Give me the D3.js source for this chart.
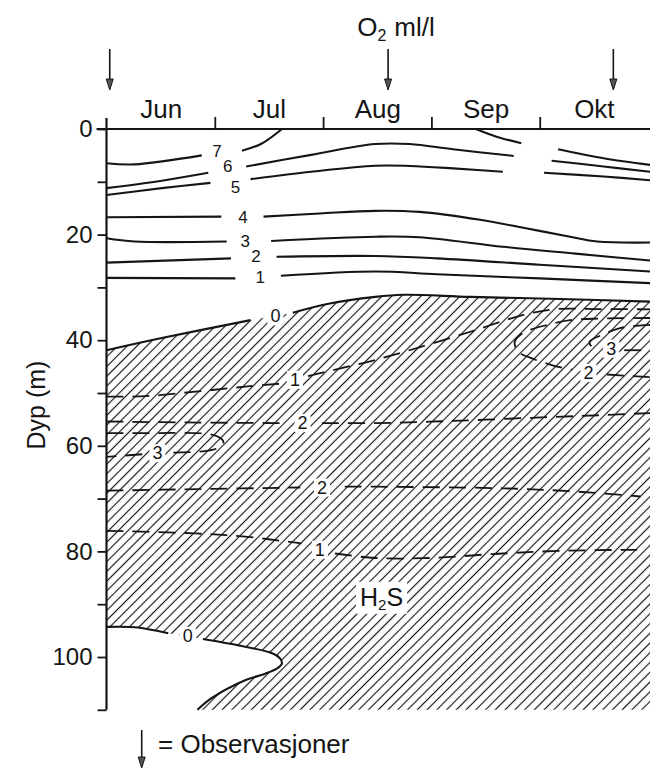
<!DOCTYPE html>
<html><head><meta charset="utf-8">
<script src="https://cdnjs.cloudflare.com/ajax/libs/d3/7.8.5/d3.min.js"></script>
<style>
body{margin:0;background:#fff}
text{font-family:"Liberation Sans",Arial,Helvetica,sans-serif;fill:#151515}
</style></head>
<body><svg id="c" width="650" height="770"></svg>
<script>
// ---------- DATA (x = months since 1 June, y = depth in m) ----------
const months = ["Jun","Jul","Aug","Sep","Okt"];
const monthBounds = [1,2,3,4];
const depthTicks = [0,10,20,30,40,50,60,70,80,90,100,110];
const observations = [0.03, 2.6, 4.68];

// O2 isolines (ml/l), solid; each is a list of segments
const o2_7 = [
  [[0.00,6.5],[0.26,6.7],[0.88,5.0]],
  [[1.25,4.1],[1.43,2.8],[1.62,0]],
  [[3.41,0],[3.60,1.45],[3.83,2.7]],
  [[4.17,3.85],[4.59,5.55],[5.02,6.8]]
];
const o2_6 = [
  [[0.00,11.2],[0.51,9.8],[0.94,8.3]],
  [[1.29,7.1],[1.89,4.9],[2.48,2.85],[2.80,2.85],[3.20,3.85],[3.76,5.1]],
  [[4.11,6.0],[4.59,7.1],[5.02,8.1]]
];
const o2_5 = [
  [[0.00,12.5],[0.51,11.2],[0.96,10.2]],
  [[1.33,9.5],[1.89,8.1],[2.48,6.95],[2.80,7.0],[3.20,7.45],[3.66,8.1]],
  [[4.04,8.3],[4.59,9.0],[5.02,9.7]]
];
const o2_4 = [
  [[0.00,16.7],[1.06,16.6]],
  [[1.45,16.6],[1.97,16.0],[2.48,15.5],[2.89,15.7],[3.45,17.2],[3.86,18.75],[4.28,20.4],[4.53,21.3],[5.02,21.5]]
];
const o2_3 = [
  [[0.00,20.7],[0.26,21.3],[1.11,21.3]],
  [[1.52,21.2],[2.48,20.4],[2.89,20.5],[3.66,22.3],[4.33,23.6],[5.02,24.9]]
];
const o2_2 = [
  [[0.00,25.3],[1.15,24.5]],
  [[1.57,24.2],[2.48,24.05],[3.05,24.5],[4.00,25.7],[5.02,27.0]]
];
const o2_1 = [
  [[0.00,28.2],[1.19,28.3]],
  [[1.61,27.8],[2.48,27.0],[3.05,27.5],[4.00,28.3],[5.02,29.2]]
];
const o2_0top = [
  [[0.00,41.9],[0.51,39.6],[1.33,36.2]],
  [[1.72,34.8],[2.05,33.1],[2.48,31.8],[2.74,31.4],[3.36,31.8],[4.19,32.2],[5.02,32.7]]
];
const o2_0bottom = [
  [[0.00,94.3],[0.29,94.4],[0.57,95.5]],
  [[0.89,96.6],[1.28,98.05],[1.53,99.3],[1.60,100.2],[1.62,101.2],[1.58,102.1],[1.46,103.2],[1.28,104.4],[0.97,107.8],[0.84,110]]
];
// label value, month, depth
const o2Labels = [[7,1.02,4.2],[6,1.12,7.1],[5,1.19,11.0],[4,1.26,16.7],[3,1.28,21.3],[2,1.38,24.2],[1,1.42,28.2]];
const zeroLabels = [[0,1.56,35.5],[0,0.75,96.0]];

// H2S isolines (ml/l), dashed
const h2s_1top = [
  [[0.00,50.7],[0.36,50.6],[0.82,49.75],[1.28,48.8],[1.62,48.2]],
  [[1.86,46.8],[2.17,45.3],[2.48,43.75],[2.88,41.4],[3.36,38.4],[3.85,35.2],[4.16,34.1],[4.56,34.1],[5.02,34.15]]
];
const h2s_2top = [
  [[0.00,55.4],[0.86,55.6],[1.65,55.7]],
  [[1.99,55.7],[2.48,55.7],[3.18,55.3],[3.92,54.7],[4.56,54.2],[5.02,53.8]]
];
const h2s_3left = [
  [[0.00,57.6],[0.40,57.6],[0.91,57.7],[1.03,58.3],[1.08,59.3],[1.03,60.4],[0.91,61.0],[0.60,61.3]],
  [[0.33,61.6],[0.00,62.1]]
];
const h2s_2bottom = [
  [[0.00,68.5],[0.86,68.2],[1.79,67.9]],
  [[2.20,67.75],[2.50,67.75],[3.66,68.05],[4.28,68.6],[4.93,69.6]]
];
const h2s_1bottom = [
  [[0.00,76.1],[0.82,76.6],[1.28,77.2],[1.80,78.5]],
  [[2.11,80.4],[2.48,81.25],[2.99,81.25],[3.57,80.5],[4.19,79.9],[4.90,79.7]]
];
const h2s_2right = [
  [[5.02,35.8],[4.56,35.9],[4.28,36.2],[4.07,37.1],[3.85,38.6],[3.77,40.3],[3.80,42.2],[3.91,43.3],[4.11,44.7],[4.30,45.6]],
  [[4.62,46.5],[5.02,47.0]]
];
const h2s_3right = [
  [[5.02,37.1],[4.74,37.7],[4.60,38.8],[4.46,40.3],[4.49,41.4],[4.55,41.8]],
  [[4.78,41.9],[5.02,41.9]]
];
const h2sLabels = [[1,1.74,47.5],[2,1.81,55.7],[3,0.47,61.4],[2,1.99,67.9],[1,1.97,79.7],[2,4.45,46.2],[3,4.66,41.6]];
const h2sName = [2.54, 90.3];

// ---------- DRAWING ----------
const INK = "#151515";
const svg = d3.select("#c");
const x = d3.scaleLinear().domain([0,5]).range([106.5,648]);
const y = d3.scaleLinear().domain([0,110]).range([129,709.8]);
const line = d3.line().x(d=>x(d[0])).y(d=>y(d[1])).curve(d3.curveCatmullRom.alpha(0.5));

const defs = svg.append("defs");
const pat = defs.append("pattern").attr("id","hatch").attr("patternUnits","userSpaceOnUse")
  .attr("width",6.9).attr("height",10).attr("patternTransform","rotate(45)");
pat.append("line").attr("x1",3.45).attr("y1",-1).attr("x2",3.45).attr("y2",11)
  .attr("stroke",INK).attr("stroke-width",1.15);

// hatched H2S region
const upperAll = o2_0top.flat();
const lowerAll = o2_0bottom.flat().slice().reverse();
const pUpper = line(upperAll);
const pLower = line(lowerAll).replace(/^M/,"L");
const regionPath = pUpper + `L${x(5.02)},${y(110)}L${x(lowerAll[0][0])},${y(110)}` + pLower + "Z";
svg.append("path").attr("d",regionPath).attr("fill","url(#hatch)").attr("stroke","none");

// solid O2 isolines
[o2_7,o2_6,o2_5,o2_4,o2_3,o2_2,o2_1,o2_0top,o2_0bottom].forEach(iso=>{
  svg.append("g").selectAll("path").data(iso).join("path")
    .attr("d",line).attr("fill","none").attr("stroke",INK).attr("stroke-width",2.1);
});
// dashed H2S isolines
[h2s_1top,h2s_2top,h2s_3left,h2s_2bottom,h2s_1bottom,h2s_2right,h2s_3right].forEach(iso=>{
  svg.append("g").selectAll("path").data(iso).join("path")
    .attr("d",line).attr("fill","none").attr("stroke",INK).attr("stroke-width",1.8)
    .attr("stroke-dasharray","17,9");
});

function label(txt, m, d, size, box){
  const g = svg.append("g");
  const t = g.append("text").attr("x",x(m)).attr("y",y(d)).attr("text-anchor","middle")
    .attr("dominant-baseline","central").attr("font-size",size).text(txt);
  if(box){
    const b = t.node().getBBox();
    g.insert("rect","text").attr("x",b.x-3).attr("y",b.y+1).attr("width",b.width+6)
      .attr("height",b.height-2).attr("fill","#fff");
  }
}
o2Labels.forEach(l=>label(l[0],l[1],l[2],17,false));
zeroLabels.forEach(l=>label(l[0],l[1],l[2],18,true));
h2sLabels.forEach(l=>label(l[0],l[1],l[2],18,true));

// H2S name
{
  const g = svg.append("g");
  const t = g.append("text").attr("x",x(h2sName[0])).attr("y",y(h2sName[1]))
    .attr("text-anchor","middle").attr("font-size",25);
  t.append("tspan").text("H");
  t.append("tspan").attr("font-size",15).attr("dy",4).text("2");
  t.append("tspan").attr("dy",-4).text("S");
  const b = t.node().getBBox();
  g.insert("rect","text").attr("x",b.x-4).attr("y",b.y-1).attr("width",b.width+8)
    .attr("height",b.height+2).attr("fill","#fff");
}

// axes
const yAxis = d3.axisLeft(y).tickValues(depthTicks).tickSize(9).tickPadding(5)
  .tickFormat(d=> d%20===0 ? d : "");
const gy = svg.append("g").attr("transform",`translate(${x(0)},0)`).call(yAxis);
gy.select(".domain").remove();
gy.selectAll(".tick line").attr("stroke",INK).attr("stroke-width",1.8);
gy.selectAll(".tick text").attr("font-size",24).attr("fill",INK).attr("font-family",null);
svg.append("line").attr("x1",x(0)).attr("x2",x(0)).attr("y1",y(0)-11).attr("y2",y(110))
  .attr("stroke",INK).attr("stroke-width",2.2);
svg.append("line").attr("x1",x(0)-10).attr("x2",650).attr("y1",y(0)).attr("y2",y(0))
  .attr("stroke",INK).attr("stroke-width",2.2);

const xTicks = d3.axisTop(x).tickValues(monthBounds).tickSize(12).tickFormat("");
const gx = svg.append("g").attr("transform",`translate(0,${y(0)})`).call(xTicks);
gx.select(".domain").remove();
gx.selectAll(".tick line").attr("stroke",INK).attr("stroke-width",1.8);
const xLabels = d3.axisTop(x).tickValues(months.map((m,i)=>i+0.5)).tickSize(0).tickPadding(11)
  .tickFormat((d,i)=>months[i]);
const gxl = svg.append("g").attr("transform",`translate(0,${y(0)})`).call(xLabels);
gxl.select(".domain").remove();
gxl.selectAll(".tick text").attr("font-size",26).attr("fill",INK).attr("font-family",null);

// observation arrows
function arrow(px, y1, y2){
  svg.append("line").attr("x1",px).attr("x2",px).attr("y1",y1).attr("y2",y2-8)
    .attr("stroke",INK).attr("stroke-width",1.6);
  svg.append("path").attr("d",`M${px-3.5},${y2-11}L${px+3.5},${y2-11}L${px},${y2}Z`)
    .attr("fill","#555").attr("stroke",INK).attr("stroke-width",1);
}
observations.forEach(o=>arrow(x(o),49,90));

// title
{
  const t = svg.append("text").attr("x",396).attr("y",36).attr("text-anchor","middle").attr("font-size",26);
  t.append("tspan").text("O");
  t.append("tspan").attr("font-size",16).attr("dy",5).text("2");
  t.append("tspan").attr("dy",-5).attr("dx",8).text("ml/l");
}
// y title
svg.append("text").attr("transform","translate(36,405) rotate(-90)").attr("text-anchor","middle")
  .attr("dominant-baseline","central").attr("font-size",25).text("Dyp (m)");

// legend
arrow(141.7,730,768);
svg.append("text").attr("x",158).attr("y",753).attr("font-size",26).text("= Observasjoner");
</script></body></html>
